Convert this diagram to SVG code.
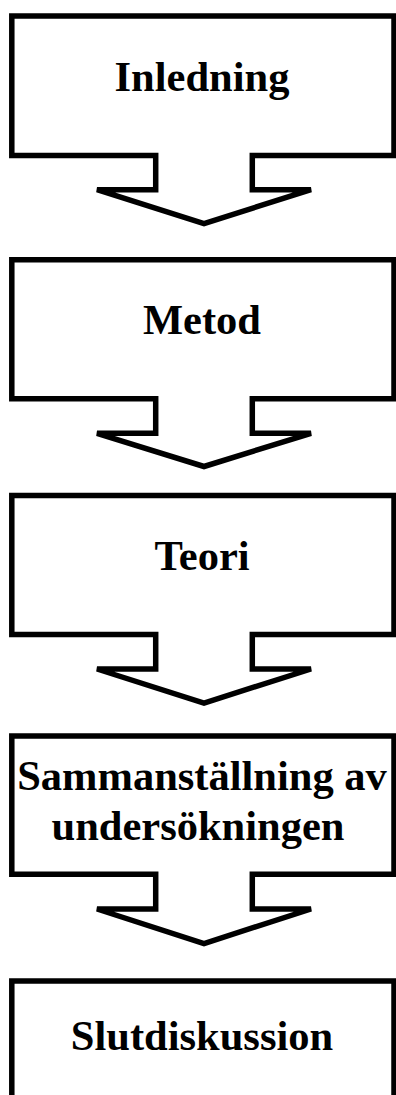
<svg xmlns="http://www.w3.org/2000/svg" width="396" height="1095" viewBox="0 0 396 1095">
  <style>
    .callout { fill: #ffffff; stroke: #000000; stroke-width: 5.5; stroke-linejoin: miter; }
    .label { font-family: "Liberation Serif", "Times New Roman", serif; font-weight: bold; font-size: 42.5px; fill: #000000; text-anchor: middle; }
  </style>
  <rect x="0" y="0" width="396" height="1095" fill="#ffffff"/>

  <!-- Down-arrow callouts: box outline with the arrow pointing to the next step -->
  <g id="inledning">
    <path class="callout" d="M11.8,16 H394 V155.5 H252.3 V189.7 H311 L204,223.5 L97,189.7 H155.7 V155.5 H11.8 Z"/>
    <text class="label" x="202" y="90.5">Inledning</text>
  </g>

  <g id="metod">
    <path class="callout" d="M11.8,259.7 H394 V398.7 H252.3 V433.3 H311 L204,466.5 L97,433.3 H155.7 V398.7 H11.8 Z"/>
    <text class="label" x="202" y="334">Metod</text>
  </g>

  <g id="teori">
    <path class="callout" d="M11.8,495.5 H394 V634.5 H252.3 V669 H311 L204,703 L97,669 H155.7 V634.5 H11.8 Z"/>
    <text class="label" x="202" y="570">Teori</text>
  </g>

  <g id="sammanstallning">
    <path class="callout" d="M11.8,736 H394 V874.3 H252.3 V909 H311 L204,943.5 L97,909 H155.7 V874.3 H11.8 Z"/>
    <text class="label" x="202" y="790">Sammanställning av</text>
    <text class="label" x="198" y="840">undersökningen</text>
  </g>

  <g id="slutdiskussion">
    <rect class="callout" x="11.8" y="981" width="382.2" height="140"/>
    <text class="label" x="202" y="1050">Slutdiskussion</text>
  </g>

  <!-- the arrows are drawn as part of each callout outline -->
  <g id="connectors"></g>
</svg>
